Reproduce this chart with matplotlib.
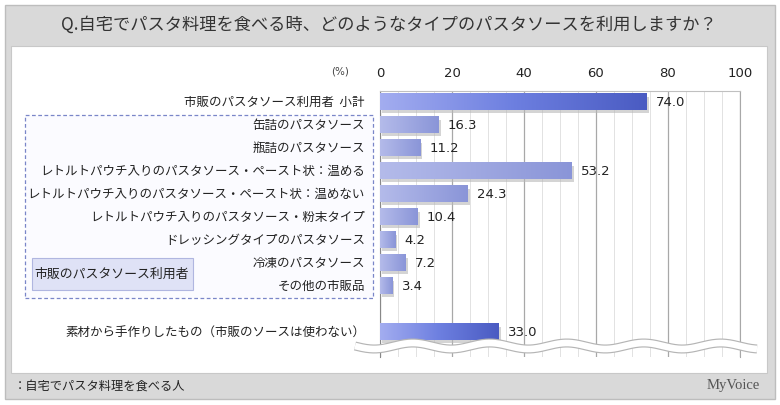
import matplotlib
matplotlib.use('Agg')
import matplotlib.pyplot as plt
import numpy as np
from matplotlib.patches import Rectangle
from matplotlib.colors import LinearSegmentedColormap

plt.rcParams['font.family'] = ['Noto Sans CJK JP', 'DejaVu Sans']

title = 'Q.自宅でパスタ料理を食べる時、どのようなタイプのパスタソースを利用しますか？'
labels = ['市販のパスタソース利用者  小計', '缶詰のパスタソース', '瓶詰のパスタソース',
          'レトルトパウチ入りのパスタソース・ペースト状：温める',
          'レトルトパウチ入りのパスタソース・ペースト状：温めない',
          'レトルトパウチ入りのパスタソース・粉末タイプ',
          'ドレッシングタイプのパスタソース', '冷凍のパスタソース', 'その他の市販品',
          '素材から手作りしたもの（市販のソースは使わない）']
values = [74.0, 16.3, 11.2, 53.2, 24.3, 10.4, 4.2, 7.2, 3.4, 33.0]
positions = [0, 1, 2, 3, 4, 5, 6, 7, 8, 10]
highlight = [True, False, False, False, False, False, False, False, False, True]
group_label = '市販のパスタソース利用者'
base_note = '：自宅でパスタ料理を食べる人'

W, H = 780, 405
fig = plt.figure(figsize=(W / 100, H / 100), dpi=100)
fig.patch.set_facecolor('white')

def fx(px):
    return px / W

def fy(py):
    return 1 - py / H

# outer gray panel and inner white panel
fig.patches.append(Rectangle((fx(5), fy(399)), fx(770), 394 / H, transform=fig.transFigure,
                             facecolor='#d9d9d9', edgecolor='#bdbdbd', lw=1, zorder=-3))
fig.patches.append(Rectangle((fx(11), fy(373)), fx(756), 327 / H, transform=fig.transFigure,
                             facecolor='white', edgecolor='#c8c8c8', lw=0.8, zorder=-2))

fig.text(fx(389), fy(25), title, ha='center', va='center', fontsize=12.4, color='#333333')

ax = fig.add_axes([fx(380), fy(357), fx(360), (357 - 91) / H])
ax.set_zorder(2)
ax.patch.set_alpha(0)

cmap_hi = LinearSegmentedColormap.from_list('hi', ['#a3adf0', '#6d7fe0', '#4a5bc2'])
cmap_lo = LinearSegmentedColormap.from_list('lo', ['#b4bbea', '#8a95d8'])
grad = np.linspace(0, 1, 256).reshape(1, -1)
bh = 0.72
for pos, v, hi in zip(positions, values, highlight):
    ax.add_patch(Rectangle((0.6, pos - bh / 2 + 0.12), v, bh, facecolor='#b8b8b8',
                           edgecolor='none', alpha=0.6, zorder=2))
    ax.imshow(grad, cmap=cmap_hi if hi else cmap_lo, aspect='auto',
              extent=(0, v, pos + bh / 2, pos - bh / 2), zorder=3)
    ax.text(v + 2.6, pos, f'{v:.1f}', va='center', ha='left', fontsize=9.5, color='#222222',
            family='DejaVu Sans', zorder=4)

ax.set_xlim(0, 100)
ax.set_ylim(11.08, -0.48)
ax.set_xticks(np.arange(0, 101, 20))
ax.set_xticks(np.arange(0, 101, 5), minor=True)
ax.grid(axis='x', which='major', color='#a8a8a8', lw=0.9, zorder=0)
ax.grid(axis='x', which='minor', color='#e2e2e2', lw=0.7, zorder=0)
ax.set_axisbelow(True)
ax.xaxis.tick_top()
ax.tick_params(axis='x', which='both', length=0, pad=8, labelsize=9.5, labelcolor='#222222')
for t in ax.get_xticklabels():
    t.set_family('DejaVu Sans')
ax.set_yticks([])
ax.spines['bottom'].set_visible(False)
ax.spines['top'].set_color('#c0c0c0')
ax.spines['right'].set_color('#a8a8a8')
ax.spines['left'].set_color('#888888')

fig.text(fx(340), fy(72), '(%)', ha='center', va='center', fontsize=7.5, color='#444444',
         family='DejaVu Sans')

# category labels
for pos, lab in zip(positions, labels):
    fig.text(fx(365), fy(102 + pos * 23.1), lab, ha='right', va='center', fontsize=9.0,
             color='#222222')

# dashed group box
fig.patches.append(Rectangle((fx(25), fy(298)), fx(348), (298 - 115) / H, transform=fig.transFigure,
                             facecolor='#fbfbff', edgecolor='#7a86c8', lw=0.9, ls=(0, (3, 2)),
                             zorder=-1))
fig.patches.append(Rectangle((fx(32), fy(290)), fx(161), 32 / H, transform=fig.transFigure,
                             facecolor='#dfe2f6', edgecolor='#b0b6e0', lw=0.8, zorder=-1))
fig.text(fx(112), fy(274), group_label, ha='center', va='center', fontsize=9.3, color='#222222')

# wavy break line
xs = np.linspace(355, 757, 400)
ys = 346 + 3 * np.sin((xs - 355) / 77 * 2 * np.pi)
line_kw = dict(transform=fig.transFigure, clip_on=False, zorder=5)
fig.lines.append(plt.Line2D(fx(xs), fy(ys), color='#b5b5b5', lw=6.5, solid_capstyle='butt', **line_kw))
fig.lines.append(plt.Line2D(fx(xs), fy(ys), color='white', lw=4.8, solid_capstyle='butt', **line_kw))

# footer
fig.text(fx(14), fy(386), base_note, ha='left', va='center', fontsize=8.8, color='#222222')
fig.text(fx(760), fy(386), 'MyVoice', ha='right', va='center', fontsize=10.5, color='#555555',
         family='Liberation Serif')

fig.savefig('out.png', dpi=100)
